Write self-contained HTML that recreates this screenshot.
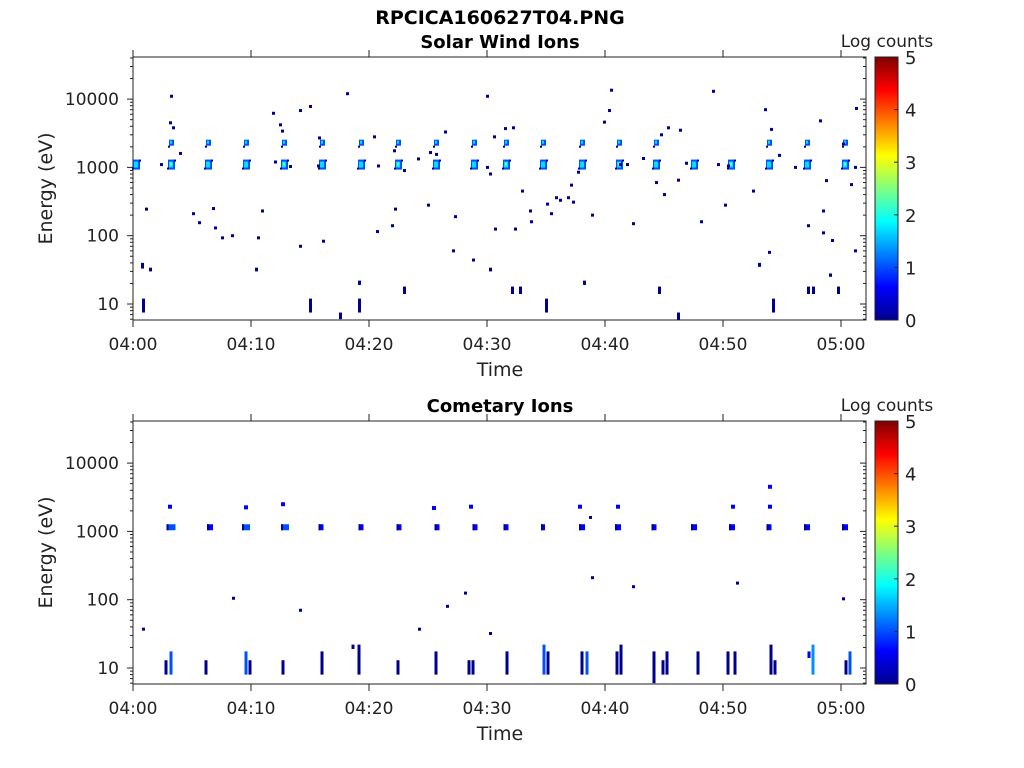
<!DOCTYPE html>
<html><head><meta charset="utf-8"><style>
body{margin:0;background:#fff;width:1024px;height:768px;overflow:hidden}
svg{display:block;font-family:"DejaVu Sans","Liberation Sans",sans-serif}
</style></head><body>
<svg id="s" width="1024" height="768" xmlns="http://www.w3.org/2000/svg">
<defs><linearGradient id="jet" x1="0" y1="1" x2="0" y2="0">
<stop offset="0" stop-color="#00008f"/><stop offset="0.125" stop-color="#0000ff"/><stop offset="0.375" stop-color="#00ffff"/><stop offset="0.625" stop-color="#ffff00"/><stop offset="0.875" stop-color="#ff0000"/><stop offset="1" stop-color="#800000"/></linearGradient></defs>
<text x="500" y="24" font-size="19" font-weight="bold" text-anchor="middle" fill="#000">RPCICA160627T04.PNG</text>
<text x="500" y="48" font-size="18" font-weight="bold" text-anchor="middle" fill="#000">Solar Wind Ions</text>
<text x="500" y="412" font-size="18" font-weight="bold" text-anchor="middle" fill="#000">Cometary Ions</text>
<g id="g"></g>
</svg>
<script>
var g=document.getElementById('g'),NS='http://www.w3.org/2000/svg';
function el(t,a,txt){var e=document.createElementNS(NS,t);for(var k in a)e.setAttribute(k,a[k]);if(txt!==undefined)e.textContent=txt;g.appendChild(e);return e;}
var X0=133,X1=866;
function ax(top){
 var bot=top+263;
 function Y(E){return bot-16-68.3*(Math.log10(E)-1);}
 el('rect',{x:X0,y:top,width:X1-X0,height:bot-top,fill:'none',stroke:'#222','stroke-width':1});
 for(var d=0;d<5;d++)for(var m=1;m<10;m++){var E=Math.pow(10,d)*m;var y=Y(E);if(y<top||y>bot)continue;var L=m==1?6:3;
  el('line',{x1:X0,x2:X0-L,y1:y,y2:y,stroke:'#222'});el('line',{x1:X1,x2:X1-L,y1:y,y2:y,stroke:'#222'});}
 var labs=['10','100','1000','10000'];
 for(var i=0;i<4;i++)el('text',{x:X0-14,y:Y(Math.pow(10,i+1))+6,'font-size':17,'text-anchor':'end',fill:'#222'},labs[i]);
 var tl=['04:00','04:10','04:20','04:30','04:40','04:50','05:00'];
 for(var i=0;i<7;i++){var x=X0+i*118;el('line',{x1:x,x2:x,y1:bot,y2:bot+7,stroke:'#222'});el('line',{x1:x,x2:x,y1:top,y2:top-7,stroke:'#222'});
  el('text',{x:x,y:bot+30,'font-size':17,'text-anchor':'middle',fill:'#222'},tl[i]);}
 el('text',{x:500,y:bot+56,'font-size':19,'text-anchor':'middle',fill:'#222'},'Time');
 el('text',{x:52,y:(top+bot)/2,'font-size':19,'text-anchor':'middle',fill:'#222',transform:'rotate(-90 52 '+(top+bot)/2+')'},'Energy (eV)');
 el('rect',{x:875,y:top,width:23,height:bot-top,fill:'url(#jet)',stroke:'#222'});
 for(var v=0;v<=5;v++){var y=bot-v*(bot-top)/5;el('line',{x1:898,x2:894,y1:y,y2:y,stroke:'#222'});el('text',{x:905,y:y+7,'font-size':18,fill:'#222'},''+v);}
 el('text',{x:887,y:top-10,'font-size':17,'text-anchor':'middle',fill:'#222'},'Log counts');
 return Y;
}
function r(x,y,w,h,c){el('rect',{x:x,y:y,width:w,height:h,fill:c});}
var DB='#00008f',B='#0000ff',MB='#0050ff',LB='#0090ff',CY='#00e0ff',GR='#70ff90';
var Y=ax(57);
var cx=[136,171,208,246,284,322,361,398,436,474,506,543,582,619,656,694,731,769,807,845];
cx.forEach(function(x,i){
 var y=Y(1100);
 r(x-3,y-5,7,10,MB);r(x-2,y-3,4,6,CY);if(i%3==1)r(x-1,y-2,2,3,GR);r(x-4,y+3,2,2,DB);r(x+3,y-5,2,2,DB);
 if(i!=0&&i!=15&&i!=16){var y2=Y(2300);r(x-2,y2-3,5,6,MB);r(x-1,y2-2,2,3,CY);r(x-3,y2+3,2,2,DB);}
});
var pts=[[171,11000],[170,4500],[173,3800],[180,1600],[161,1100],[146,245],[193,210],[199,155],[213,250],[215,130],[222,93],[232,100],[258,93],[262,230],[273,6200],[280,4200],[282,3400],[300,6800],[310,7800],[319,2700],[300,70],[323,83],[347,12000],[374,2800],[378,1050],[377,115],[392,140],[394,1750],[395,245],[404,900],[418,1330],[428,280],[436,1550],[445,3300],[455,190],[453,60],[473,44],[487,1000],[487,11000],[490,800],[494,2800],[495,125],[505,3700],[513,3800],[515,125],[522,450],[530,230],[531,160],[547,290],[551,210],[556,360],[560,330],[568,360],[571,550],[573,310],[578,850],[592,200],[604,4600],[609,6800],[611,13500],[620,1100],[627,1100],[633,150],[643,1350],[656,600],[661,3000],[664,400],[668,3800],[678,650],[680,3500],[686,1150],[701,160],[713,13000],[718,1100],[725,280],[753,450],[765,7000],[771,3600],[769,57],[779,1500],[795,1000],[808,140],[820,4800],[823,230],[826,640],[823,110],[832,85],[851,560],[855,1000],[855,60],[856,7300],[843,2200],[728,1050],[430,1650],[318,1050],[290,1030],[275,1200]];
pts.forEach(function(p){r(p[0]-1,Y(p[1])-1.5,3,3,DB);});
var bars=[[143,12,7.5],[142,40,33],[150,34,30],[256,34,30],[310,12,7.5],[359,12,7.5],[359,22,19],[340,7.5,6],[404,18,14],[512,18,14],[520,18,14],[490,34,30],[546,12,7.5],[584,22,19],[659,18,14],[678,7.5,5.8],[773,12,7.5],[808,18,14],[813,18,14],[838,18,14],[830,28,25],[759,40,35]];
bars.forEach(function(b){r(b[0]-1,Y(b[1]),3,Y(b[2])-Y(b[1]),DB);});
Y=ax(421);
[[170,2300],[246,2250],[283,2500],[434,2200],[471,2300],[580,2300],[618,2300],[733,2300],[770,2300],[770,4500]].forEach(function(p){r(p[0]-2,Y(p[1])-2,4,4,B);});
[[171,9],[210,6],[246,8],[285,8],[321,5],[361,5],[399,5],[437,5],[475,5],[506,5],[543,4],[582,6],[618,6],[654,5],[694,6],[732,6],[769,5],[807,6],[845,6]].forEach(function(p){var y=Y(1150);r(p[0]-p[1]/2,y-3,p[1],6,p[1]>6?MB:B);r(p[0]-p[1]/2,y-3,2,6,DB);});
[[143,37],[233,105],[300,70],[419,37],[447,80],[465,125],[490,32],[592,210],[633,155],[737,175],[843,103],[590,1600]].forEach(function(p){r(p[0]-1,Y(p[1])-1.5,3,3,DB);});
var bb=[[166,13,8,DB],[171,17.5,8,MB],[206,13,8,DB],[246,17.5,8,MB],[250,13,8,DB],[283,13,8,DB],[322,17.5,8,DB],[353,22,19,DB],[359,22,8,DB],[398,13,8,DB],[436,17.5,8,DB],[469,13,8,DB],[473,13,8,DB],[507,17.5,8,DB],[544,22,8,MB],[548,17.5,8,DB],[582,17.5,8,DB],[587,17.5,8,MB],[617,17.5,8,DB],[621,22,8,DB],[654,17.5,6,DB],[663,13,8,DB],[667,17.5,8,DB],[698,17.5,8,DB],[728,17.5,8,DB],[735,17.5,8,DB],[771,22,8,DB],[775,13,8,DB],[809,17.5,14,B],[813,22,8,LB],[846,13,8,DB],[850,17.5,8,MB]];
bb.forEach(function(b){r(b[0]-1.5,Y(b[1]),3,Y(b[2])-Y(b[1]),b[3]);});
</script>
</body></html>
